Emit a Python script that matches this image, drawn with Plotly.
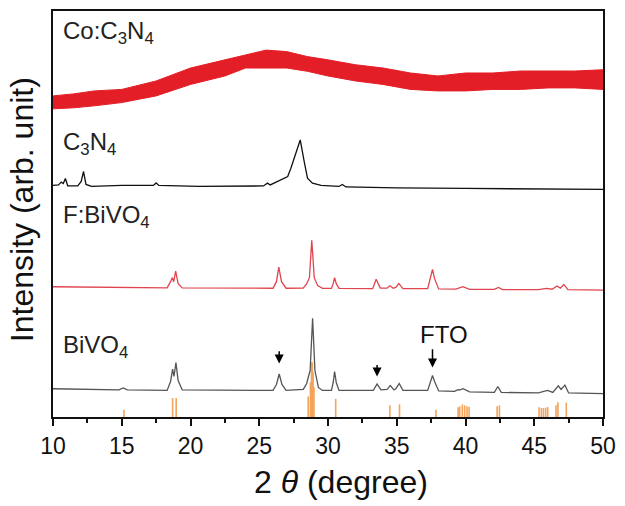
import plotly.graph_objects as go

# ---------------- data ----------------
# BiVO4 pattern (2theta, intensity arb.)
bivo4_x = [10, 12, 14.8, 15.1, 15.4, 18.3, 18.55, 18.7, 18.8, 18.94, 19.1, 19.4,
           26.0, 26.25, 26.45, 26.65, 26.95, 28.2, 28.45, 28.6, 28.7, 28.88, 29.05,
           29.3, 29.6, 30.25, 30.38, 30.48, 30.6, 30.8, 33.3, 33.57, 33.85, 34.3,
           34.53, 34.8, 34.95, 35.18, 35.45, 37.25, 37.45, 37.6, 37.75, 38.05, 39.2,
           39.46, 39.6, 39.82, 40.3, 42.1, 42.35, 42.6, 45.3, 45.96, 46.35, 46.75,
           46.95, 47.23, 47.5, 50]
bivo4_y = [28.4, 27.9, 27.2, 29.2, 27.2, 26.7, 35.7, 48.2, 40.7, 54.7, 36.7, 27.2,
           26.7, 32.7, 43.2, 32.7, 26.7, 27.7, 33.7, 41.7, 46.7, 99.2, 46.7,
           29.7, 26.7, 26.7, 34.7, 45.7, 34.7, 26.7, 26.7, 33.2, 27.2, 27.7,
           31.7, 27.2, 28.7, 33.7, 26.7, 26.7, 35.7, 41.7, 35.7, 26.2, 25.7,
           27.4, 27.2, 28.4, 25.2, 24.7, 30.7, 24.7, 24.2, 26.7, 24.7, 31.4,
           27.7, 32.0, 24.2, 23.4]

# F:BiVO4 pattern
fbivo4_x = [10, 12, 18.3, 18.55, 18.68, 18.78, 18.92, 19.1, 19.4, 26.0, 26.25, 26.42,
            26.62, 26.95, 28.2, 28.45, 28.55, 28.65, 28.82, 29.0, 29.25, 29.6, 30.25,
            30.38, 30.48, 30.6, 30.8, 33.25, 33.5, 33.8, 34.3, 34.5, 34.75, 34.95,
            35.15, 35.45, 37.25, 37.45, 37.6, 37.75, 38.05, 39.3, 39.8, 40.3, 42.1,
            42.4, 42.7, 45.3, 45.9, 46.3, 46.65, 46.9, 47.15, 47.45, 50]
fbivo4_y = [130.9, 130.7, 129.8, 136.0, 140.1, 136.0, 146.7, 134.0, 129.8, 129.4, 136.0, 150.7,
            136.0, 129.4, 129.6, 134.0, 137.7, 140.0, 177.7, 140.0, 132.0, 129.2, 129.2,
            134.0, 140.1, 134.0, 129.2, 129.0, 138.5, 129.5, 129.5, 131.9, 129.3, 130.5,
            134.2, 129.0, 129.0, 139.0, 148.4, 139.0, 128.7, 128.5, 130.9, 128.2, 128.2,
            130.2, 128.0, 128.0, 129.2, 128.4, 131.7, 129.5, 133.2, 128.0, 127.6]

# C3N4 pattern
c3n4_x = [10, 10.4, 10.6, 10.75, 10.9, 11.07, 11.8, 12.05, 12.22, 12.4, 12.8, 15,
          17.3, 17.5, 17.7, 20.6, 25.3, 25.6, 25.8, 26.3, 26.87, 27.07, 27.3, 27.55,
          27.98, 28.27, 28.51, 28.87, 29.5, 30.8, 31.04, 31.3, 35, 40, 45, 50]
c3n4_y = [232.7, 233.2, 236.0, 234.7, 239.7, 232.4, 232.2, 236.7, 246.7, 233.7, 231.7, 232.7,
          232.7, 235.2, 232.7, 231.7, 232.2, 235.0, 233.2, 236.7, 240.0, 241.7, 250.0, 260.0,
          278.4, 256.7, 240.0, 235.0, 232.7, 231.7, 233.7, 231.2, 230.2, 229.7, 229.2, 228.7]

# Co:C3N4 noisy band: upper and lower envelope
co_x = [10, 11.5, 13, 15, 17.5, 20, 22.5, 24, 25.5, 27, 28.5, 30, 32, 34, 36, 38,
        40, 42, 44, 46, 48, 50]
co_upper = [322.7, 324.7, 327.7, 329.2, 337.7, 350.7, 358.9, 363.7, 368.7, 367.2, 362.2,
            358.9, 354.0, 350.7, 345.7, 342.7, 345.7, 345.7, 347.7, 347.7, 347.7, 349.0]
co_lower = [309.7, 310.7, 312.7, 316.0, 322.7, 334.2, 342.7, 350.7, 350.7, 350.7, 347.4,
            342.7, 337.7, 334.2, 329.2, 327.7, 327.7, 329.2, 329.2, 330.7, 330.7, 329.2]

# Reference stick pattern
ref_pos = [15.16, 18.70, 18.96, 28.56, 28.72, 28.80, 28.86, 28.92, 28.98, 30.56, 34.50,
           35.20, 37.85, 39.46, 39.58, 39.77, 39.94, 40.11, 40.26, 42.30, 42.47, 45.35,
           45.52, 45.67, 45.83, 45.98, 46.58, 46.72, 47.33]
ref_h = [7.2, 19.0, 19.0, 20.7, 35.0, 55.0, 55.0, 45.0, 30.0, 18.2, 11.7,
         12.7, 7.2, 9.7, 10.7, 12.7, 11.7, 10.7, 10.0, 10.7, 11.7, 9.7,
         9.0, 9.0, 9.4, 10.0, 11.7, 14.7, 14.4]

# arrows: (2theta, tip, tail)
arrow_x = [26.45, 33.57, 37.6]
arrow_tip = [53.7, 40.7, 49.7]
arrow_tail = [67.7, 53.7, 69.7]

FONT = "Arial, Liberation Sans, sans-serif"

fig = go.Figure()

# sticks
sx, sy = [], []
for p, h in zip(ref_pos, ref_h):
    sx += [p, p, None]
    sy += [0, h, None]
fig.add_trace(go.Scatter(x=sx, y=sy, mode="lines", line=dict(color="#f4a45c", width=1.6),
                         hoverinfo="skip", showlegend=False))

fig.add_trace(go.Scatter(x=bivo4_x, y=bivo4_y, mode="lines",
                         line=dict(color="#555555", width=1.3), showlegend=False))
fig.add_trace(go.Scatter(x=fbivo4_x, y=fbivo4_y, mode="lines",
                         line=dict(color="#e0454f", width=1.3), showlegend=False))
fig.add_trace(go.Scatter(x=c3n4_x, y=c3n4_y, mode="lines",
                         line=dict(color="#111111", width=1.3), showlegend=False))
fig.add_trace(go.Scatter(x=co_x + co_x[::-1], y=co_upper + co_lower[::-1], mode="lines",
                         fill="toself", fillcolor="#e41e26",
                         line=dict(color="#e41e26", width=1), showlegend=False))

ann = []
labels = [("Co:C<sub>3</sub>N<sub>4</sub>", 386.0), ("C<sub>3</sub>N<sub>4</sub>", 274.5),
          ("F:BiVO<sub>4</sub>", 201.5), ("BiVO<sub>4</sub>", 71.0)]
for t, yv in labels:
    ann.append(dict(x=10.59, y=yv, xref="x", yref="y", text=t, showarrow=False,
                    xanchor="left", yanchor="middle", font=dict(family=FONT, size=24, color="#222")))
ann.append(dict(x=38.42, y=82.7, xref="x", yref="y", text="FTO", showarrow=False,
                xanchor="center", yanchor="middle", font=dict(family=FONT, size=24, color="#111")))
for xv, tip, tail in zip(arrow_x, arrow_tip, arrow_tail):
    ann.append(dict(x=xv, y=tip, xref="x", yref="y", ax=xv, ay=tail, axref="x", ayref="y",
                    text="", showarrow=True, arrowhead=2, arrowsize=1.2, arrowwidth=1.5,
                    arrowcolor="#000"))
ann.append(dict(x=0.523, y=-0.16, xref="paper", yref="paper", text="2 <i>θ</i> (degree)",
                showarrow=False, xanchor="center", yanchor="middle",
                font=dict(family=FONT, size=32, color="#111")))
ann.append(dict(x=-0.056, y=0.51, xref="paper", yref="paper", text="Intensity (arb. unit)",
                showarrow=False, xanchor="center", yanchor="middle", textangle=-90,
                font=dict(family=FONT, size=32, color="#111")))

fig.update_layout(
    width=625, height=506,
    margin=dict(l=53, r=17, t=9, b=89),
    paper_bgcolor="white", plot_bgcolor="white",
    annotations=ann,
    xaxis=dict(range=[10, 50], dtick=5, tick0=10, ticks="outside", ticklen=7, tickwidth=1.5,
               tickcolor="#111", showline=True, linecolor="#111", linewidth=2, mirror=True,
               showgrid=False, zeroline=False,
               tickfont=dict(family=FONT, size=23, color="#111"),
               minor=dict(dtick=2.5, ticks="outside", ticklen=4, tickwidth=1.5, tickcolor="#111",
                          showgrid=False)),
    yaxis=dict(range=[0, 408], showticklabels=False, ticks="", showline=True, linecolor="#111",
               linewidth=2, mirror=True, showgrid=False, zeroline=False),
)

fig.write_html("out.html")
